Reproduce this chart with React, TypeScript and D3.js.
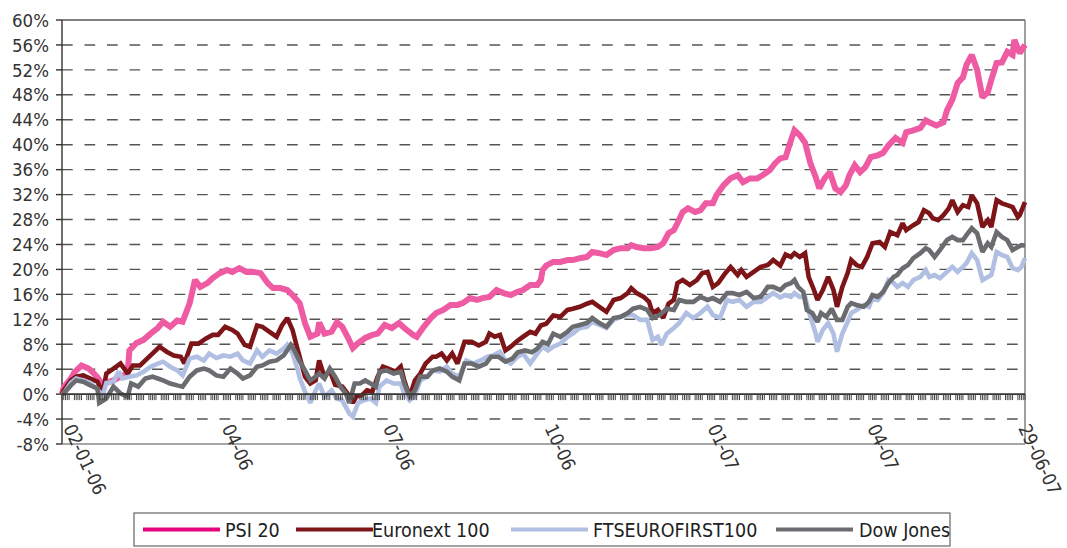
import React from 'react';
import * as d3 from 'd3';

// ---------- DATA ----------
const seriesNames = ['PSI 20', 'Euronext 100', 'FTSEUROFIRST100', 'Dow Jones'];
const startDate = '2006-01-02';
const endDate = '2007-06-29';
const yTickValues = [-8, -4, 0, 4, 8, 12, 16, 20, 24, 28, 32, 36, 40, 44, 48, 52, 56, 60];
const xTickDates = ['2006-01-02', '2006-04-03', '2006-07-03', '2006-10-02', '2007-01-02', '2007-04-02', '2007-06-29'];
const xTickLabels = ['02-01-06', '04-06', '07-06', '10-06', '01-07', '04-07', '29-06-07'];

// [days since 2 Jan 2006, % change]
const psi20: [number, number][] = [
  [0, 0.0], [1, 1.1], [5, 2.5], [7, 3.5], [11, 4.6], [15, 4.1], [17, 3.6], [20, 2.7], [23, 1.4], [26, 1.9],
  [29, 2.2], [33, 2.8], [37, 3.3], [38, 7.0], [42, 8.2], [46, 8.7], [50, 9.7], [54, 10.6], [57, 11.6], [61, 10.8],
  [65, 11.8], [68, 11.6], [72, 14.6], [75, 18.3], [78, 17.2], [82, 17.8], [85, 18.6], [89, 19.4], [93, 19.9], [96, 19.6],
  [100, 20.2], [104, 19.6], [108, 19.6], [112, 19.4], [116, 17.8], [119, 17.0], [123, 17.0], [127, 16.7], [130, 15.9], [134, 14.6],
  [137, 11.4], [140, 9.2], [144, 9.7], [145, 11.5], [148, 9.7], [152, 10.0], [155, 11.5], [158, 10.8], [161, 9.2], [164, 7.4],
  [167, 8.2], [171, 9.0], [175, 9.5], [178, 9.7], [182, 11.1], [186, 10.6], [190, 11.4], [193, 10.6], [198, 9.5], [200, 9.2],
  [204, 10.8], [208, 12.2], [211, 13.0], [215, 13.5], [219, 14.3], [223, 14.3], [226, 14.6], [230, 15.4], [234, 15.1], [237, 15.4],
  [241, 15.6], [245, 16.7], [249, 16.2], [253, 15.9], [257, 16.4], [260, 16.7], [264, 17.5], [268, 17.5], [270, 18.3], [271, 19.9],
  [273, 20.6], [277, 21.2], [281, 21.2], [285, 21.5], [288, 21.5], [292, 21.8], [296, 22.0], [299, 22.8], [303, 22.6], [307, 22.3],
  [311, 23.1], [315, 23.4], [319, 23.4], [321, 23.9], [324, 23.6], [328, 23.4], [332, 23.4], [336, 23.6], [339, 24.2], [342, 25.8],
  [345, 26.3], [347, 27.4], [350, 29.2], [353, 29.8], [357, 29.2], [360, 29.5], [363, 30.6], [367, 30.6], [369, 31.9], [373, 33.5],
  [377, 34.6], [381, 35.1], [384, 34.0], [388, 34.6], [392, 34.6], [395, 35.1], [399, 35.9], [402, 37.0], [405, 37.8], [408, 38.0],
  [411, 40.7], [413, 42.3], [416, 41.5], [419, 40.3], [422, 37.0], [425, 34.8], [427, 33.0], [430, 34.6], [433, 35.6], [436, 33.0],
  [439, 32.4], [442, 33.5], [444, 35.1], [447, 36.7], [450, 35.6], [453, 36.4], [456, 38.0], [460, 38.3], [463, 38.7], [466, 39.9],
  [470, 41.1], [474, 40.3], [476, 42.0], [480, 42.3], [484, 42.7], [487, 43.9], [489, 43.6], [493, 43.1], [497, 43.6], [499, 45.5],
  [502, 47.2], [505, 49.9], [508, 50.8], [510, 52.8], [513, 54.4], [516, 52.0], [519, 47.6], [522, 48.4], [524, 50.4], [527, 53.1],
  [530, 53.2], [533, 54.9], [536, 54.4], [537, 56.8], [540, 54.7], [543, 56.0],
];

const euronext100: [number, number][] = [
  [0, 0.0], [1, 0.6], [5, 2.2], [8, 2.8], [12, 3.0], [16, 2.5], [20, 2.0], [23, 0.2], [25, 3.3], [29, 4.1],
  [33, 4.9], [37, 3.3], [40, 4.6], [44, 4.6], [48, 5.7], [51, 6.5], [55, 7.6], [59, 6.8], [63, 6.2], [67, 6.0],
  [69, 4.9], [73, 8.1], [77, 8.1], [81, 8.9], [85, 9.5], [88, 9.5], [92, 10.8], [96, 10.3], [99, 9.7], [103, 7.9],
  [106, 7.6], [110, 11.0], [113, 10.8], [117, 10.0], [121, 9.2], [124, 11.0], [127, 12.2], [130, 10.3], [133, 7.0], [134, 6.0],
  [137, 2.8], [140, 1.7], [143, 2.2], [145, 5.4], [148, 2.8], [151, 3.8], [154, 1.5], [158, 1.2], [161, 0.1], [164, -1.4],
  [166, -0.4], [169, -0.2], [172, 0.6], [175, 0.4], [178, 2.8], [181, 4.4], [184, 4.1], [188, 3.6], [191, 4.4], [193, 2.2],
  [196, -0.4], [199, 2.2], [202, 3.3], [205, 4.9], [209, 6.0], [211, 6.0], [214, 6.5], [217, 5.4], [220, 6.5], [223, 4.9],
  [227, 8.4], [231, 8.4], [235, 7.8], [239, 8.4], [241, 9.7], [244, 9.2], [247, 9.5], [250, 7.0], [253, 7.6], [257, 8.6],
  [260, 9.2], [264, 10.0], [267, 9.7], [270, 11.0], [273, 11.3], [277, 12.6], [281, 12.4], [285, 13.5], [288, 13.7], [292, 14.0],
  [296, 14.5], [299, 14.8], [303, 14.0], [307, 13.2], [311, 15.1], [315, 15.4], [319, 16.2], [321, 17.0], [324, 16.2], [328, 15.6],
  [331, 14.8], [333, 13.0], [336, 13.5], [339, 12.2], [342, 14.5], [345, 15.1], [347, 17.8], [350, 18.3], [354, 17.5], [358, 18.3],
  [361, 19.4], [364, 19.6], [367, 17.2], [370, 17.8], [374, 19.4], [377, 20.4], [381, 19.1], [383, 19.9], [386, 18.8], [390, 19.6],
  [394, 20.4], [398, 20.7], [401, 21.5], [405, 20.6], [408, 22.4], [411, 22.0], [413, 22.6], [416, 22.0], [419, 22.6], [421, 18.8],
  [424, 16.7], [426, 15.1], [429, 16.7], [432, 18.8], [435, 16.7], [437, 14.0], [440, 17.2], [443, 19.4], [445, 21.5], [448, 20.7],
  [451, 20.4], [454, 22.0], [457, 24.2], [461, 24.4], [464, 23.6], [467, 26.0], [471, 25.5], [474, 27.4], [476, 26.3], [480, 27.1],
  [483, 27.6], [486, 29.5], [489, 29.0], [491, 28.2], [494, 27.9], [497, 28.7], [500, 29.8], [502, 31.1], [505, 29.2], [508, 30.3],
  [511, 30.0], [513, 31.9], [516, 30.6], [519, 26.8], [522, 27.9], [524, 26.8], [527, 31.1], [530, 30.6], [533, 30.3], [536, 30.0],
  [539, 28.4], [540, 28.7], [543, 30.8],
];

const ftseurofirst100: [number, number][] = [
  [0, 0.0], [1, 0.1], [5, 1.8], [8, 2.5], [12, 2.2], [16, 1.8], [20, 0.7], [23, -0.2], [25, 1.8], [29, 2.0],
  [32, 3.6], [34, 2.5], [38, 2.8], [42, 3.0], [46, 3.6], [50, 4.4], [54, 4.9], [57, 5.2], [61, 4.4], [65, 3.8],
  [68, 3.0], [72, 5.7], [76, 6.0], [80, 5.4], [83, 6.5], [87, 5.8], [91, 6.2], [95, 6.0], [99, 6.5], [102, 5.4],
  [106, 4.9], [110, 7.0], [113, 6.0], [117, 7.0], [121, 6.5], [125, 7.3], [127, 7.9], [130, 6.5], [133, 3.8], [134, 2.6],
  [137, 0.4], [140, -1.4], [143, 0.6], [145, 1.7], [148, -0.4], [152, 0.6], [155, -0.7], [158, -1.0], [162, -3.1], [164, -3.6],
  [167, -1.4], [170, -1.0], [174, -0.7], [177, -1.4], [179, 1.2], [183, 2.2], [187, 1.7], [191, 1.7], [193, 0.1], [196, -1.0],
  [199, -0.2], [202, 2.2], [206, 2.8], [209, 3.8], [213, 3.6], [217, 4.4], [220, 3.3], [224, 2.8], [228, 5.4], [232, 4.9],
  [236, 5.4], [240, 6.0], [243, 6.2], [247, 6.8], [250, 5.4], [253, 4.9], [257, 6.0], [260, 6.5], [264, 4.9], [268, 6.5],
  [271, 7.6], [274, 7.0], [277, 7.6], [281, 8.1], [285, 9.2], [288, 9.7], [292, 10.6], [296, 10.8], [299, 11.6], [303, 11.1],
  [307, 10.6], [311, 11.9], [315, 12.4], [319, 12.7], [322, 12.7], [326, 11.9], [330, 11.9], [333, 8.7], [336, 9.2], [338, 7.9],
  [341, 9.7], [345, 10.6], [348, 11.4], [352, 13.0], [356, 12.2], [360, 13.0], [364, 14.0], [367, 12.7], [371, 12.2], [375, 15.1],
  [378, 14.8], [382, 15.1], [386, 14.0], [390, 14.8], [394, 14.8], [398, 15.6], [401, 16.2], [405, 15.5], [408, 15.9], [411, 15.6],
  [413, 16.2], [416, 15.6], [419, 15.6], [422, 12.4], [425, 9.7], [426, 8.4], [429, 10.3], [432, 11.4], [435, 9.7], [437, 6.8],
  [440, 9.7], [443, 11.6], [445, 13.0], [448, 13.5], [452, 14.3], [455, 14.0], [457, 15.4], [460, 15.1], [463, 16.2], [466, 18.3],
  [469, 17.8], [471, 17.2], [474, 17.8], [477, 17.2], [480, 18.3], [484, 18.8], [487, 19.9], [489, 18.8], [492, 19.1], [495, 18.6],
  [499, 19.6], [502, 20.4], [505, 19.6], [508, 20.4], [510, 21.0], [513, 22.6], [516, 21.5], [519, 18.3], [522, 18.8], [524, 19.1],
  [527, 22.8], [530, 22.3], [533, 22.0], [536, 20.2], [539, 19.9], [541, 20.4], [543, 21.8],
];

const dowJones: [number, number][] = [
  [0, 0.0], [1, 0.1], [5, 1.4], [8, 2.2], [12, 2.0], [16, 1.4], [20, 0.9], [21, -1.4], [25, -0.7], [29, 1.2],
  [33, 0.1], [37, -0.4], [39, 1.7], [43, 1.2], [47, 2.5], [51, 2.8], [54, 2.5], [57, 2.2], [61, 1.7], [65, 1.4],
  [68, 1.2], [72, 2.8], [76, 3.8], [80, 4.1], [83, 3.8], [87, 3.0], [91, 2.8], [95, 4.1], [99, 3.3], [102, 2.5],
  [106, 3.0], [110, 4.4], [113, 4.6], [117, 5.2], [121, 5.4], [125, 6.2], [129, 7.9], [131, 7.0], [134, 5.3], [137, 3.8],
  [140, 2.2], [143, 2.8], [145, 3.3], [148, 2.5], [151, 4.1], [154, 2.8], [157, 1.2], [160, 0.1], [162, -1.4], [165, 1.7],
  [168, 1.7], [171, 2.2], [174, 1.7], [177, 1.2], [179, 3.6], [183, 3.8], [187, 3.3], [191, 3.6], [193, 1.7], [196, -0.4],
  [199, 0.6], [202, 2.8], [206, 2.8], [209, 3.8], [213, 4.1], [217, 3.6], [220, 2.8], [224, 2.2], [227, 4.9], [231, 4.9],
  [235, 4.4], [239, 4.9], [242, 6.0], [246, 6.0], [250, 5.2], [254, 5.7], [257, 6.7], [261, 7.0], [265, 6.7], [268, 7.3],
  [271, 8.4], [274, 8.0], [277, 9.7], [281, 9.2], [285, 10.0], [288, 10.8], [292, 11.1], [296, 11.4], [299, 12.2], [303, 11.4],
  [307, 10.8], [311, 12.2], [315, 12.4], [319, 13.0], [322, 13.7], [326, 14.0], [330, 13.5], [333, 12.2], [337, 12.7], [341, 13.7],
  [345, 13.5], [348, 15.1], [352, 14.8], [356, 14.8], [360, 15.6], [364, 15.1], [367, 15.4], [371, 14.8], [375, 16.2], [378, 16.2],
  [382, 15.9], [386, 16.4], [390, 15.4], [394, 15.6], [398, 17.2], [401, 17.2], [405, 16.7], [408, 17.5], [411, 17.8], [413, 18.3],
  [415, 17.2], [418, 16.4], [420, 13.5], [423, 13.0], [426, 11.6], [428, 13.0], [431, 12.4], [434, 13.7], [437, 11.9], [440, 11.9],
  [443, 14.0], [445, 14.6], [448, 14.3], [452, 14.0], [455, 14.8], [457, 15.9], [460, 15.6], [463, 16.4], [466, 17.8], [469, 18.8],
  [471, 19.1], [474, 20.2], [477, 20.7], [480, 21.8], [484, 22.6], [487, 23.4], [489, 23.1], [492, 22.0], [495, 23.1], [499, 24.7],
  [502, 25.2], [505, 24.7], [508, 24.7], [510, 25.5], [513, 26.6], [516, 25.8], [519, 22.8], [522, 24.2], [524, 23.6], [527, 26.0],
  [530, 25.2], [533, 24.7], [536, 23.1], [539, 23.6], [541, 23.9], [543, 23.8],
];

const allSeries = [psi20, euronext100, ftseurofirst100, dowJones];

// ---------- STYLE ----------
const lineColors = ['#EF5BA3', '#7D1518', '#B1BFE3', '#6B6C6F'];
const legendColors = ['#E5007E', '#7D1518', '#B1BFE3', '#6B6C6F'];
const lineWidths = [6, 4.6, 4.6, 4.6];
const FONT = "'DejaVu Sans Condensed', 'DejaVu Sans', sans-serif";

const W = 1067;
const H = 548;
const M = { left: 62, right: 1025, top: 20, bottom: 444 };

const parse = d3.timeParse('%Y-%m-%d');

export default function App() {
  const t0 = parse(startDate) as Date;
  const t1 = parse(endDate) as Date;
  const x = d3.scaleTime().domain([t0, t1]).range([M.left, M.right]);
  const y = d3.scaleLinear().domain([-8, 60]).range([M.bottom, M.top]);

  const line = d3
    .line<[number, number]>()
    .x((d) => x(d3.timeDay.offset(t0, d[0])))
    .y((d) => y(d[1]));

  const tradingDays = d3.timeDays(t0, d3.timeDay.offset(t1, 1)).filter((d) => d.getDay() !== 0 && d.getDay() !== 6);
  const y0 = y(0);

  const legendLayout = [
    { lx: 143, tx: 225 },
    { lx: 296, tx: 372 },
    { lx: 511, tx: 593 },
    { lx: 776, tx: 859 },
  ];
  const legendY = 529.5;

  return (
    <svg width={W} height={H} style={{ position: 'absolute', left: 0, top: 0, background: '#fff' }} fontFamily={FONT}>
      <rect x={0} y={0} width={W} height={H} fill="#fff" />
      {/* gridlines */}
      {yTickValues
        .filter((v) => v !== -8 && v !== 0 && v !== 60)
        .map((v) => (
          <line key={'g' + v} x1={M.left} x2={M.right} y1={y(v)} y2={y(v)} stroke="#555" strokeWidth={1.4} strokeDasharray="10.7 11.8" />
        ))}
      {/* frame */}
      <line x1={M.left} x2={M.right} y1={M.top} y2={M.top} stroke="#555" strokeWidth={1.4} />
      <line x1={M.right} x2={M.right} y1={M.top} y2={M.bottom} stroke="#777" strokeWidth={1.4} />
      <line x1={M.left} x2={M.right} y1={M.bottom} y2={M.bottom} stroke="#888" strokeWidth={1.4} />
      {/* y axis */}
      <line x1={M.left} x2={M.left} y1={M.top} y2={M.bottom} stroke="#333" strokeWidth={1.4} />
      {yTickValues.map((v) => (
        <g key={'yt' + v}>
          <line x1={M.left - 6} x2={M.left} y1={y(v)} y2={y(v)} stroke="#333" strokeWidth={1.4} />
          <text x={49} y={y(v)} dy="0.36em" textAnchor="end" fontSize={18.5} fill="#333">
            {v + '%'}
          </text>
        </g>
      ))}
      {/* series */}
      {allSeries.map((s, i) => (
        <path key={'s' + i} d={line(s) || ''} fill="none" stroke={lineColors[i]} strokeWidth={lineWidths[i]} strokeLinejoin="miter" strokeMiterlimit={2} />
      ))}
      {/* x axis at zero */}
      <line x1={M.left} x2={M.right} y1={y0} y2={y0} stroke="#333" strokeWidth={1.6} />
      {tradingDays.map((d, i) => (
        <line key={'xt' + i} x1={x(d)} x2={x(d)} y1={y0} y2={y0 + 6} stroke="#444" strokeWidth={1} />
      ))}
      {xTickDates.map((ds, i) => {
        const px = x(parse(ds) as Date) - (i === 0 ? -1 : i === xTickDates.length - 1 ? 7 : 2);
        return (
          <text key={'xl' + i} transform={`translate(${px},${428}) rotate(65)`} fontSize={18.5} fill="#333">
            {xTickLabels[i]}
          </text>
        );
      })}
      {/* legend */}
      <rect x={134} y={513} width={816} height={33} fill="#fff" stroke="#666" strokeWidth={1.2} />
      {seriesNames.map((n, i) => (
        <g key={'lg' + i}>
          <line x1={legendLayout[i].lx} x2={legendLayout[i].lx + 77} y1={legendY} y2={legendY} stroke={legendColors[i]} strokeWidth={4} />
          <text x={legendLayout[i].tx} y={legendY} dy="0.36em" fontSize={19.5} fill="#222">
            {n}
          </text>
        </g>
      ))}
    </svg>
  );
}
